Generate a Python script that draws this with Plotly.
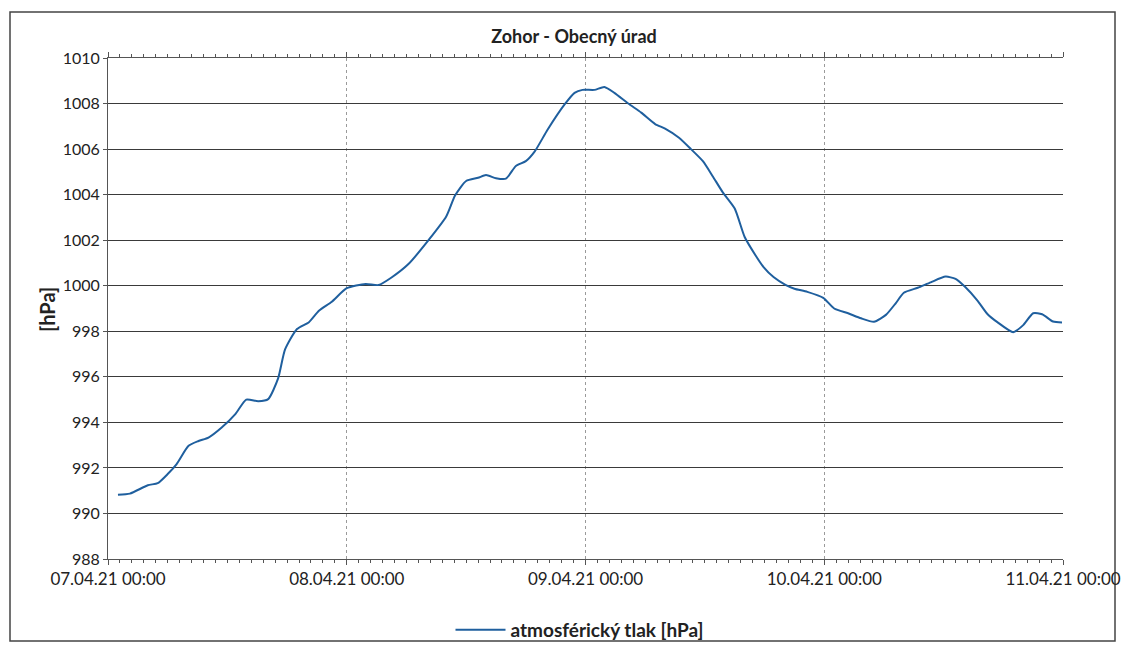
import pandas as pd
import plotly.graph_objects as go

# ---- data ----
start_date = "2021-04-07 00:00"
hours = [1.0, 2.2, 4.0, 5.0, 6.0, 6.9, 8.1, 9.1, 10.1, 11.4, 12.8, 13.9, 15.1, 16.1, 17.1, 17.8,
         19.0, 20.2, 21.2, 22.5, 24.0, 25.9, 27.2, 28.5, 30.2, 32.2, 34.0, 34.9, 36.0, 37.2,
         38.0, 39.0, 40.0, 41.0, 42.0, 42.9, 44.2, 45.9, 46.9, 47.7, 48.9, 49.9, 50.9, 52.3,
         53.6, 55.0, 56.0, 57.4, 58.6, 59.8, 60.8, 61.8, 63.0, 64.0, 65.1, 65.9, 66.9, 68.1,
         69.0, 70.3, 71.9, 73.0, 74.4, 75.7, 77.0, 78.2, 79.2, 80.0, 81.4, 82.7, 84.2, 85.2,
         86.2, 87.4, 88.4, 89.4, 91.0, 92.0, 93.0, 93.9, 95.0, 95.9]
pressure = [990.82, 990.87, 991.24, 991.33, 991.73, 992.17, 992.97, 993.18, 993.33, 993.76,
            994.36, 995.0, 994.93, 995.02, 995.93, 997.2, 998.1, 998.4, 998.9, 999.3, 999.89,
            1000.08, 1000.03, 1000.36, 1000.95, 1001.99, 1003.04, 1003.97, 1004.6, 1004.74,
            1004.86, 1004.72, 1004.7, 1005.26, 1005.47, 1005.9, 1006.86, 1007.96, 1008.47,
            1008.6, 1008.6, 1008.73, 1008.47, 1008.0, 1007.6, 1007.1, 1006.9, 1006.5, 1006.0,
            1005.47, 1004.8, 1004.1, 1003.39, 1002.14, 1001.33, 1000.82, 1000.38, 1000.04,
            999.87, 999.73, 999.47, 999.0, 998.79, 998.57, 998.42, 998.72, 999.24, 999.69,
            999.91, 1000.15, 1000.4, 1000.3, 999.93, 999.35, 998.76, 998.4, 997.96, 998.27,
            998.79, 998.75, 998.43, 998.39]
tick_dates = ["2021-04-07", "2021-04-08", "2021-04-09", "2021-04-10", "2021-04-11"]
tick_labels = ["07.04.21 00:00", "08.04.21 00:00", "09.04.21 00:00", "10.04.21 00:00", "11.04.21 00:00"]
series_name = "atmosférický tlak [hPa]"
chart_title = "Zohor - Obecný úrad"
y_title = "[hPa]"

times = pd.Timestamp(start_date) + pd.to_timedelta(hours, unit="h")

FONT = "Lato"
W, H = 1125, 647
L, T = 108, 58
R = W - 1063
B = H - 559
PW = W - L - R
PH = H - T - B


def px(xp):   # page x -> paper x
    return (xp - L) / PW


def py(yp):   # page y -> paper y
    return (H - B - yp) / PH


fig = go.Figure()
fig.add_trace(go.Scatter(x=times, y=pressure, mode="lines", name="<b>" + series_name + "</b>",
                         line=dict(color="#1f5f9e", width=2, shape="spline", smoothing=0.6)))

fig.update_layout(
    width=W, height=H,
    margin=dict(l=L, r=R, t=T, b=B, autoexpand=False),
    paper_bgcolor="white", plot_bgcolor="white",
    font=dict(family=FONT, color="#222"),
    title=dict(text="<b>" + chart_title + "</b>", x=px(574), xref="paper", xanchor="center",
               y=1 - 37 / H, yanchor="middle", font=dict(size=18, family=FONT, color="#222")),
    showlegend=True,
    legend=dict(orientation="h", x=px(580), xanchor="center", y=py(630),
                yanchor="middle", font=dict(size=19, family=FONT, color="#222"),
                bgcolor="rgba(0,0,0,0)", itemwidth=50),
)

fig.update_xaxes(
    type="date", range=[tick_dates[0], tick_dates[-1]],
    tickmode="array", tickvals=tick_dates, ticktext=tick_labels,
    tickfont=dict(size=17, family=FONT, color="#222"),
    ticklabeloverflow="allow",
    showgrid=True, gridcolor="#9a9a9a", gridwidth=1, griddash="dot",
    showline=True, linecolor="#555", linewidth=1, mirror="ticks",
    ticks="outside", ticklen=5, tickcolor="#555",
    minor=dict(dtick=4320000, ticks="outside", ticklen=3, tickcolor="#555", showgrid=False),
    zeroline=False, automargin=False,
)
fig.update_yaxes(
    range=[988, 1010], dtick=2, tick0=988,
    tickfont=dict(size=16, family=FONT, color="#222"),
    showgrid=True, gridcolor="#3a3a3a", gridwidth=1,
    showline=True, linecolor="#555", linewidth=1, mirror=False,
    ticks="outside", ticklen=4, tickcolor="#555",
    zeroline=False, automargin=False,
)

fig.add_annotation(text="<b>" + y_title + "</b>", xref="paper", yref="paper",
                   x=px(33), y=py(310), textangle=-90, showarrow=False,
                   font=dict(size=20, family=FONT, color="#222"))

# outer chart border
fig.add_shape(type="rect", xref="paper", yref="paper",
              x0=px(10), x1=px(1115), y0=py(641), y1=py(12),
              line=dict(color="#444", width=1.5), fillcolor="rgba(0,0,0,0)", layer="below")

fig.write_html("out.html", config={"displayModeBar": False},
               post_script="document.body.style.margin='0';document.body.style.overflow='hidden';")
